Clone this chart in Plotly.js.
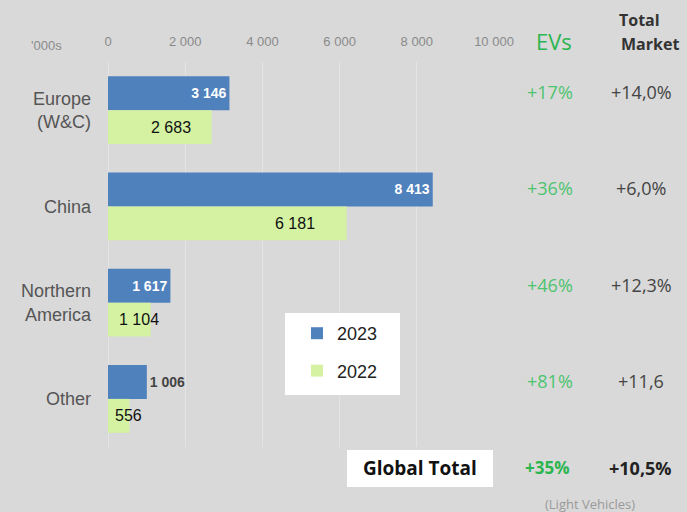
<!DOCTYPE html>
<html>
<head>
<meta charset="utf-8">
<script src="https://cdn.plot.ly/plotly-3.0.1.min.js"></script>
<style>html,body{margin:0;padding:0;background:#d9d9d9;}#chart{width:687px;height:512px;}</style>
</head>
<body>
<div id="chart"></div>
<script>
// ---- data ----
const regions = ["Europe<br>(W&C)", "China", "Northern<br>America", "Other"];
const ev2023 = [3146, 8413, 1617, 1006];
const ev2022 = [2683, 6181, 1104, 556];
const label2023 = ["3 146", "8 413", "1 617", "1 006"];
const label2022 = ["2 683", "6 181", "1 104", "556"];
const evGrowth = ["+17%", "+36%", "+46%", "+81%"];
const marketGrowth = ["+14,0%", "+6,0%", "+12,3%", "+11,6"];
const xTickVals = [0, 2000, 4000, 6000, 8000, 10000];
const xTickText = ["0", "2 000", "4 000", "6 000", "8 000", "10 000"];
const globalEV = "+35%";
const globalMarket = "+10,5%";

// ---- styles / positions ----
const BLUE = "#4f81bd", GREEN = "#d4f2a2";
const label22Shift = [-19, -30, 10, 15];
const SANS = "Liberation Sans, Arial, sans-serif";
const OPEN = "Open Sans, sans-serif";

const traces = [
  {
    type: "bar", orientation: "h", name: "2023", legendgroup: "a",
    y: regions, x: ev2023, marker: {color: BLUE},
    text: label2023,
    textposition: ["inside", "inside", "inside", "outside"],
    insidetextanchor: "end",
    textfont: {family: SANS, size: 14, color: ["#ffffff", "#ffffff", "#ffffff", "#444444"], weight: "bold"},
    cliponaxis: false, hoverinfo: "none"
  },
  {
    type: "bar", orientation: "h", name: "2022", legendgroup: "b",
    y: regions, x: ev2022, marker: {color: GREEN},
    textposition: "none", hoverinfo: "none"
  }
];

const annotations = [];
regions.forEach((r, i) => {
  annotations.push({xref: "x", yref: "y", x: ev2022[i], y: r, text: label2022[i],
    showarrow: false, xanchor: "right", yanchor: "middle", xshift: label22Shift[i], yshift: -17,
    font: {family: SANS, size: 16, color: "#111"}});
  annotations.push({xref: "paper", yref: "y", x: 1.145, y: r, text: evGrowth[i],
    showarrow: false, xanchor: "center", yanchor: "middle", yshift: 18,
    font: {family: OPEN, size: 18, color: "#4cc46e"}});
  annotations.push({xref: "paper", yref: "y", x: 1.381, y: r, text: marketGrowth[i],
    showarrow: false, xanchor: "center", yanchor: "middle", yshift: 18,
    font: {family: OPEN, size: 18, color: "#444"}});
});
// headers
annotations.push({xref: "paper", yref: "paper", x: (554-108)/386, y: (447-41)/385, text: "EVs",
  showarrow: false, xanchor: "center", yanchor: "middle", font: {family: OPEN, size: 22, color: "#2cb54f"}});
annotations.push({xref: "paper", yref: "paper", x: (617-108)/386, y: (447-20)/385, text: "Total",
  showarrow: false, xanchor: "left", yanchor: "middle", font: {family: OPEN, size: 16, color: "#333", weight: "bold"}});
annotations.push({xref: "paper", yref: "paper", x: (619-108)/386, y: (447-44)/385, text: "Market",
  showarrow: false, xanchor: "left", yanchor: "middle", font: {family: OPEN, size: 16, color: "#333", weight: "bold"}});
annotations.push({xref: "paper", yref: "paper", x: (46-108)/386, y: (447-46)/385, text: "'000s",
  showarrow: false, xanchor: "center", yanchor: "middle", font: {family: SANS, size: 13, color: "#8a8a8a"}});
// global total row
annotations.push({xref: "paper", yref: "paper", x: (420-108)/386, y: (447-468)/385, text: "<b>Global Total</b>",
  showarrow: false, xanchor: "center", yanchor: "middle", font: {family: OPEN, size: 19, color: "#111"}});
annotations.push({xref: "paper", yref: "paper", x: (547-108)/386, y: (447-468)/385, text: "<b>" + globalEV + "</b>",
  showarrow: false, xanchor: "center", yanchor: "middle", font: {family: OPEN, size: 17, color: "#2cb54f"}});
annotations.push({xref: "paper", yref: "paper", x: (640-108)/386, y: (447-468)/385, text: "<b>" + globalMarket + "</b>",
  showarrow: false, xanchor: "center", yanchor: "middle", font: {family: OPEN, size: 18, color: "#222"}});
annotations.push({xref: "paper", yref: "paper", x: (590-108)/386, y: (447-504)/385, text: "(Light Vehicles)",
  showarrow: false, xanchor: "center", yanchor: "middle", font: {family: OPEN, size: 13, color: "#999"}});

const shapes = [
  {type: "rect", xref: "paper", yref: "paper", layer: "above",
   x0: (285-108)/386, x1: (400-108)/386, y0: (447-395)/385, y1: (447-313)/385,
   fillcolor: "#ffffff", line: {width: 0}},
  {type: "rect", xref: "paper", yref: "paper", layer: "above",
   x0: (347-108)/386, x1: (493-108)/386, y0: (447-487)/385, y1: (447-450)/385,
   fillcolor: "#ffffff", line: {width: 0}}
];

const layout = {
  width: 687, height: 512,
  paper_bgcolor: "#d9d9d9", plot_bgcolor: "#d9d9d9",
  margin: {l: 108, r: 193, t: 62, b: 65, pad: 0},
  barmode: "group", bargap: 0.294, bargroupgap: 0,
  showlegend: true,
  legend: {x: (297-108)/386, y: (447-315)/385, xanchor: "left", yanchor: "top",
    bgcolor: "rgba(0,0,0,0)", traceorder: "grouped", tracegroupgap: 11,
    font: {family: SANS, size: 18, color: "#222"}},
  xaxis: {side: "top", range: [0, 10000], tickvals: xTickVals, ticktext: xTickText,
    showgrid: true, gridcolor: "#e4e4e4", gridwidth: 1, zeroline: true, zerolinecolor: "#e4e4e4",
    showline: false, ticks: "", ticklabelstandoff: 12, fixedrange: true,
    tickfont: {family: SANS, size: 13, color: "#8a8a8a"}},
  yaxis: {autorange: "reversed", type: "category", showgrid: false, zeroline: false, showline: false,
    ticks: "", ticklabelstandoff: 16, fixedrange: true,
    tickfont: {family: SANS, size: 18, color: "#555"}},
  annotations: annotations,
  shapes: shapes,
  font: {family: SANS}
};

Plotly.newPlot("chart", traces, layout, {displayModeBar: false, staticPlot: true});
</script>
</body>
</html>
